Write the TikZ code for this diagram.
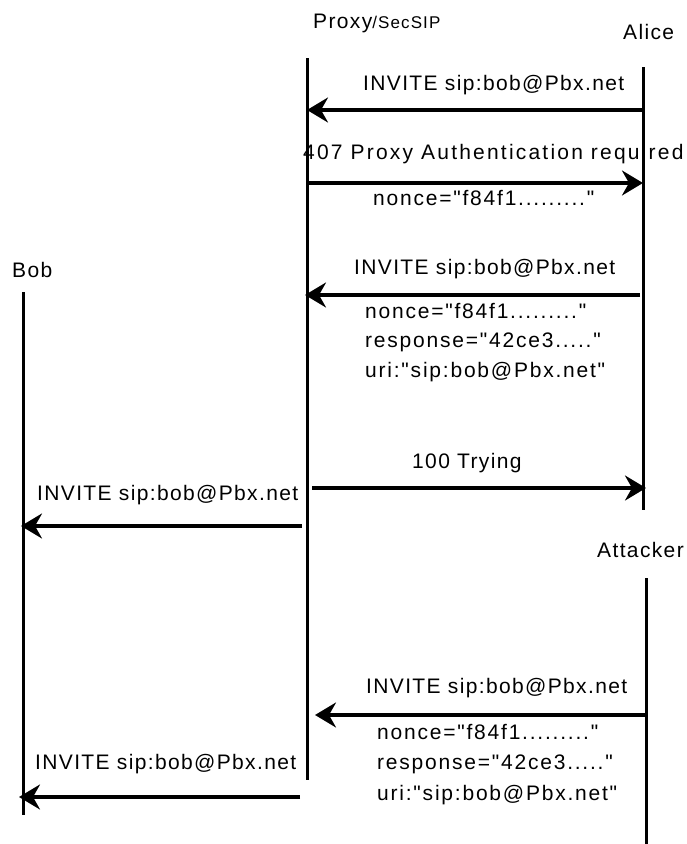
\documentclass[tikz,border=0pt]{standalone}
\usepackage{fontspec}
\setmainfont{Liberation Sans}[LetterSpace=6.5,Ligatures=TeXOff]
\usetikzlibrary{arrows.meta}

\begin{document}
\begin{tikzpicture}[x=1pt,y=-1pt,>={Stealth[length=21pt,width=25pt,inset=7pt]},
  life/.style={line width=3pt},
  msg/.style={->,line width=3.3pt},
  lbl/.style={anchor=base west,inner sep=0pt,font=\fontsize{21}{25}\selectfont},
  lblwide/.style={lbl,font=\fontsize{21}{25}\selectfont\addfontfeature{LetterSpace=#1}}]
  \useasboundingbox (0,0) rectangle (687,844);

  % actors
  \node[lbl] (proxy)    at (313,28)  {Proxy{\fontsize{17}{20}\selectfont/SecSIP}};
  \node[lbl] (alice)    at (623,39)  {Alice};
  \node[lbl] (bob)      at (12,277)  {Bob};
  \node[lbl] (attacker) at (597,557) {Attacker};

  % lifelines
  \coordinate (proxytop) at (307,58);  \coordinate (proxyend) at (307,780);
  \coordinate (alicetop) at (643,67);  \coordinate (aliceend) at (643,510);
  \coordinate (bobtop)   at (23,292);  \coordinate (bobend)   at (23,815);
  \coordinate (atttop)   at (646,578); \coordinate (attend)   at (646,844);
  \draw[life] (proxytop) -- (proxyend);
  \draw[life] (alicetop) -- (aliceend);
  \draw[life] (bobtop) -- (bobend);
  \draw[life] (atttop) -- (attend);

  % message end points
  \coordinate (a1) at (643,110); \coordinate (p1) at (307,110);
  \coordinate (p2) at (307,183); \coordinate (a2) at (643,183);
  \coordinate (a3) at (640,295); \coordinate (p3) at (305,295);
  \coordinate (p4) at (312,488); \coordinate (a4) at (646,488);
  \coordinate (p5) at (302,526); \coordinate (b5) at (21,526);
  \coordinate (t6) at (646,715); \coordinate (p6) at (315,715);
  \coordinate (p7) at (300,797); \coordinate (b7) at (19,797);

  \path[msg]
  (a1) edge (p1)
  (p2) edge (a2)
  (a3) edge (p3)
  (p4) edge (a4)
  (p5) edge (b5)
  (t6) edge (p6)
  (p7) edge (b7);

  % message texts
  \node[lbl] (inv1)  at (363,90)  {INVITE sip:bob@Pbx.net};
  \node[lblwide=10.5] (auth2) at (303,159) {407 Proxy Authentication required};
  \node[lblwide=8.5] (non2)  at (373,205) {nonce="f84f1........."};

  \node[lbl] (inv3)  at (354,274) {INVITE sip:bob@Pbx.net};
  \node[lblwide=8.5] (non3)  at (365,318) {nonce="f84f1........."};
  \node[lblwide=8.5] (resp3) at (365,347) {response="42ce3....."};
  \node[lblwide=8.5] (uri3)  at (365,377) {uri:"sip:bob@Pbx.net"};

  \node[lbl] (try4)  at (412,468) {100 Trying};
  \node[lbl] (inv5)  at (37,500)  {INVITE sip:bob@Pbx.net};

  \node[lbl] (inv6)  at (366,693) {INVITE sip:bob@Pbx.net};
  \node[lblwide=8.5] (non6)  at (377,739) {nonce="f84f1........."};
  \node[lblwide=8.5] (resp6) at (377,769) {response="42ce3....."};
  \node[lblwide=8.5] (uri6)  at (377,800) {uri:"sip:bob@Pbx.net"};

  \node[lbl] (inv7)  at (35,769)  {INVITE sip:bob@Pbx.net};
\end{tikzpicture}
\end{document}
